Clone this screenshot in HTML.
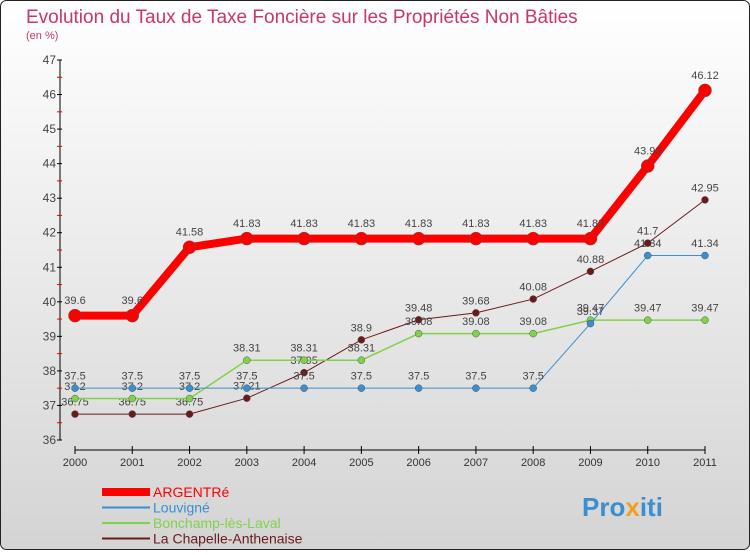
<!DOCTYPE html>
<html><head><meta charset="utf-8"><style>
body{margin:0;width:750px;height:550px;overflow:hidden;font-family:"Liberation Sans",sans-serif}
</style></head><body>
<svg width="750" height="550" xmlns="http://www.w3.org/2000/svg">
<defs><linearGradient id="bg" x1="0" y1="0" x2="0" y2="1"><stop offset="0" stop-color="#ffffff"/><stop offset="1" stop-color="#d4d4d4"/></linearGradient></defs>
<rect x="0.5" y="0.5" width="749" height="549" rx="6" fill="url(#bg)" stroke="#222"/>
<text x="26" y="23" font-size="19" fill="#c8366a">Evolution du Taux de Taxe Foncière sur les Propriétés Non Bâties</text>
<text x="26" y="39" font-size="11" fill="#c8366a">(en %)</text>
<g id="axes"></g><g id="series"></g><g id="legend"></g>
<text x="582" y="516" font-size="26" font-weight="bold" fill="#3a8fd0">Pro<tspan fill="#f0a020">x</tspan>iti</text>
</svg>
<script>
const years=["2000","2001","2002","2003","2004","2005","2006","2007","2008","2009","2010","2011"];
const yTicks=[36,37,38,39,40,41,42,43,44,45,46,47];
const argentre=[39.6,39.6,41.58,41.83,41.83,41.83,41.83,41.83,41.83,41.83,43.93,46.12];
const louvigne=[37.5,37.5,37.5,37.5,37.5,37.5,37.5,37.5,37.5,39.37,41.34,41.34];
const bonchamp=[37.2,37.2,37.2,38.31,38.31,38.31,39.08,39.08,39.08,39.47,39.47,39.47];
const chapelle=[36.75,36.75,36.75,37.21,37.95,38.9,39.48,39.68,40.08,40.88,41.7,42.95];
const seriesNames=["ARGENTRé","Louvigné","Bonchamp-lès-Laval","La Chapelle-Anthenaise"];
const NS="http://www.w3.org/2000/svg";
const X=i=>75+i*(630/11);
const Y=v=>440-(v-36)*(380/11);
function mk(t,a,p){const e=document.createElementNS(NS,t);for(const k in a)e.setAttribute(k,a[k]);p.appendChild(e);return e;}
const ax=document.getElementById('axes');
let l=mk('line',{x1:60,y1:60,x2:60,y2:440,stroke:'#000'},ax);


yTicks.forEach(v=>{mk('line',{x1:57,y1:Y(v),x2:62,y2:Y(v),stroke:'#000'},ax);
 if(v<47)mk('line',{x1:57,y1:Y(v+0.5),x2:62,y2:Y(v+0.5),stroke:'#e00'},ax);
 const t=mk('text',{x:56,y:Y(v)+4,'font-size':12,fill:'#444','text-anchor':'end'},ax);t.textContent=v;
 
 });
l=mk('line',{x1:75,y1:450,x2:705,y2:450,stroke:'#000'},ax);


years.forEach((y,i)=>{mk('line',{x1:X(i),y1:446,x2:X(i),y2:454,stroke:'#000'},ax);
 const t=mk('text',{x:X(i),y:466,'font-size':11,fill:'#333','text-anchor':'middle'},ax);t.textContent=y;
 
 });
const sg=document.getElementById('series');
const defs=[[chapelle,'#6b1a1a',1,3.5,'chapelle'],[bonchamp,'#7fd24a',1.5,3.5,'bonchamp'],[louvigne,'#3a8fd0',1,3.5,'louvigne'],[argentre,'#ff0000',8,6.5,'argentre']];
defs.forEach(([d,c,w,r,n])=>{
 const p=mk('polyline',{points:d.map((v,i)=>X(i)+','+Y(v)).join(' '),fill:'none',stroke:c,'stroke-width':w,'stroke-linejoin':'round'},sg);
 
 
 d.forEach((v,i)=>{const m=mk('circle',{cx:X(i),cy:Y(v),r:r,fill:c,stroke:'#555','stroke-width':0.5},sg);
  
  
  const t=mk('text',{x:X(i),y:Y(v)-(r+5),'font-size':11,fill:'#444','text-anchor':'middle'},sg);t.textContent=v;
  
  });
});
const lg=document.getElementById('legend');
const lc=['#ff0000','#3a8fd0','#7fd24a','#6b1a1a'],lw=[8,2,2,2];
seriesNames.forEach((s,i)=>{const y=492+i*15.5;
 const g=mk('g',{},lg);
 
 
 mk('line',{x1:102,y1:y,x2:150,y2:y,stroke:lc[i],'stroke-width':lw[i]},g);
 const t=mk('text',{x:153,y:y+5,'font-size':14,fill:lc[i]},g);t.textContent=s;});
</script>
</body></html>
